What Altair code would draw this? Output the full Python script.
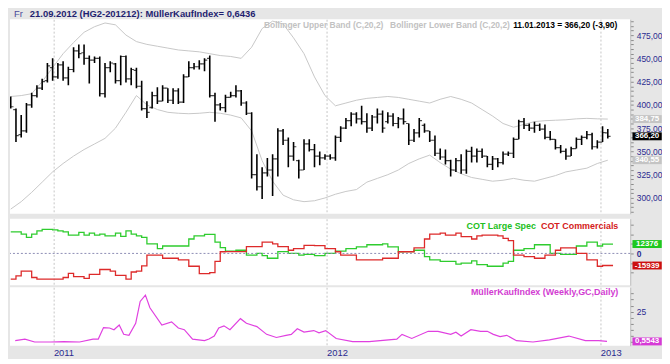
import altair as alt
import pandas as pd

W = 625
H_PRICE, H_COT, H_MKI = 196, 67, 59
FONT = "Liberation Sans"
NAVY = "#2b2b90"

# ---------------- weekly OHLC (HG2) ----------------
opens = [405, 395, 368, 372, 400, 410, 418, 426, 440, 430,
         443, 429, 438, 458, 456, 450, 448, 450, 412, 440,
         444, 426, 452, 428, 437, 420, 396, 397, 410, 404,
         418, 405, 415, 403, 430, 440, 441, 444, 450, 410,
         400, 397, 408, 410, 415, 402, 391, 325, 312, 327,
         330, 342, 372, 362, 345, 340, 330, 358, 352, 345,
         343, 345, 343, 365, 375, 383, 390, 385, 382, 375,
         387, 390, 382, 388, 380, 385, 380, 362, 370, 378,
         372, 362, 348, 344, 340, 330, 340, 330, 350, 345,
         350, 345, 336, 342, 338, 347, 348, 363, 382, 378,
         375, 378, 374, 365, 363, 354, 350, 345, 353, 363,
         365, 368, 355, 360, 370]
highs = [409, 396, 389, 402, 413, 421, 428, 445, 450, 445,
         447, 441, 462, 465, 465, 453, 452, 452, 445, 447,
         445, 453, 453, 440, 440, 426, 404, 414, 419, 421,
         418, 418, 418, 433, 447, 445, 448, 450, 453, 413,
         402, 411, 414, 421, 416, 404, 392, 347, 333, 343,
         347, 375, 374, 365, 360, 341, 363, 363, 358, 350,
         347, 347, 367, 377, 386, 392, 392, 399, 391, 389,
         396, 394, 392, 391, 387, 396, 380, 374, 386, 380,
         372, 367, 353, 352, 341, 343, 347, 352, 355, 353,
         353, 345, 345, 343, 350, 350, 365, 384, 386, 380,
         382, 380, 379, 372, 363, 357, 353, 355, 365, 367,
         372, 370, 362, 377, 374]
lows = [396, 360, 365, 370, 397, 408, 416, 424, 426, 428,
        426, 421, 435, 450, 443, 423, 445, 409, 408, 435,
        423, 421, 424, 421, 418, 394, 386, 396, 401, 404,
        402, 401, 401, 402, 430, 438, 438, 436, 408, 382,
        394, 392, 408, 408, 399, 389, 321, 308, 299, 323,
        302, 323, 357, 333, 340, 321, 330, 350, 333, 335,
        341, 341, 340, 360, 374, 377, 380, 379, 370, 372,
        380, 370, 380, 377, 375, 379, 357, 360, 365, 370,
        360, 345, 341, 336, 323, 328, 326, 326, 338, 338,
        343, 333, 330, 333, 336, 345, 343, 363, 374, 372,
        370, 372, 363, 362, 352, 348, 341, 345, 353, 357,
        363, 352, 353, 360, 364]
closes = [398, 367, 372, 400, 410, 418, 425, 442, 430, 443,
          429, 438, 458, 455, 450, 448, 450, 412, 440, 445,
          426, 452, 428, 438, 420, 396, 392, 410, 404, 418,
          405, 415, 403, 430, 440, 441, 444, 448, 410, 400,
          397, 408, 410, 415, 402, 391, 325, 312, 327, 330,
          342, 372, 362, 345, 355, 330, 358, 352, 345, 343,
          345, 343, 365, 375, 383, 390, 385, 382, 375, 387,
          390, 375, 388, 380, 385, 382, 362, 370, 383, 372,
          362, 348, 344, 340, 330, 340, 330, 350, 345, 350,
          345, 336, 342, 338, 347, 348, 363, 382, 378, 375,
          378, 374, 365, 363, 354, 350, 345, 353, 363, 365,
          368, 355, 360, 370.1, 366.2]

# ---------------- Bollinger bands (every second week) ----------------
band_upper = [409, 410, 412, 425, 440, 455, 467, 478, 484, 488,
              486, 475, 468, 465, 463, 461, 459, 458, 457, 455,
              453, 452, 450, 462, 482, 490, 487, 472, 455, 430,
              410, 399, 402, 405, 407, 408, 409, 408, 406, 404,
              402, 406, 409, 406, 402, 395, 388, 380, 376, 379,
              382, 383, 383.5, 384, 385, 385.5, 385, 384.75]
band_lower = [288, 296, 306, 317, 328, 337, 345, 352, 358, 364,
              375, 392, 410, 400, 395, 392, 391, 390.5, 391, 392,
              391, 389, 386, 372, 340, 318, 303, 298, 296, 297,
              300, 304, 307, 309, 317, 321, 325, 330, 337, 342,
              346, 338, 331, 326, 322, 320, 318, 319, 321, 319,
              318, 321, 324, 328, 330, 332, 337, 340.55]

# ---------------- COT (weekly) ----------------
cot_large = [28300, 28300, 25400, 21200, 25400, 29600, 31750, 31750, 30900, 29600,
             28300, 24100, 24100, 27600, 24100, 26700, 24100, 25400, 23200, 23200,
             26700, 22500, 29600, 25400, 23200, 21200, 12700, 12700, 6350, 9800,
             9800, 9800, 9800, 9800, 19000, 23200, 23200, 25000, 25000, 14900,
             7600, 2900, 2900, 4200, 4200, -2200, -2200, 0, -2900, -6350,
             -6350, 2500, 2500, 0, 0, -2200, -1300, -1300, -2900, -2900,
             0, 0, 2900, 2900, 6350, 6350, 8500, 8500, 11400, 11400,
             11400, 12700, 8500, 8500, 2200, 2500, 2500, 4200, 4200, -4200,
             -8500, -8500, -10500, -10500, -10500, -14000, -12700, -12700, -9800, -14800,
             -14800, -16900, -16900, -16900, -12700, -10500, 4200, 4200, 6350, 6350,
             11400, 11400, 11400, 0, 0, -1300, -1300, -1300, 9800, 9800,
             14900, 14900, 9800, 12376, 12376, 12376]
cot_comm = [-33900, -29600, -23200, -23200, -31750, -33900, -33900, -33900, -33900, -33900,
            -31750, -26300, -30500, -30500, -33000, -27600, -27600, -21200, -21200, -23200,
            -28800, -28800, -33900, -24500, -23200, -16500, -2200, -2200, -2200, -6350,
            -6350, -6350, -8500, -8500, -16900, -16900, -26700, -26700, -25400, -10500,
            2200, 2500, 2500, 2500, 2500, 8900, 8900, 8900, 14900, 14900,
            12700, 8900, 8900, 4200, 6350, 6350, 10500, 10500, 10200, 10200,
            6350, 6350, 2200, -2200, -2200, -2200, -8500, -8500, -8500, -8500,
            -8500, -6350, -6350, -6350, 2200, 2200, 2200, 7200, 7200, 19000,
            25400, 25400, 26700, 24100, 24100, 26700, 22000, 22000, 19000, 23200,
            24100, 24100, 24100, 23200, 19900, 16900, -2200, -2200, -4200, -4200,
            -6350, -6350, -2200, -2200, 4200, 7200, 7200, 7200, 0, 0,
            -8500, -8500, -16900, -15939, -15939, -15939]

# ---------------- MüllerKaufIndex ----------------
mki_dates = ["2010-11-11", "2010-11-24", "2010-12-07", "2010-12-28", "2011-01-15",
             "2011-02-05", "2011-02-23", "2011-03-02", "2011-03-09", "2011-03-17",
             "2011-03-23", "2011-03-30", "2011-04-05", "2011-04-12", "2011-04-21",
             "2011-04-27", "2011-05-04", "2011-05-10", "2011-05-26", "2011-06-08",
             "2011-06-17", "2011-06-25", "2011-07-06", "2011-07-22", "2011-07-28",
             "2011-08-04", "2011-08-10", "2011-08-17", "2011-08-25", "2011-09-08",
             "2011-09-16", "2011-09-30", "2011-10-13", "2011-10-26", "2011-11-08",
             "2011-11-15", "2011-11-23", "2011-12-02", "2011-12-15", "2011-12-22",
             "2011-12-31", "2012-01-14", "2012-02-05", "2012-02-27", "2012-04-04",
             "2012-04-11", "2012-04-24", "2012-05-16", "2012-05-29", "2012-06-15",
             "2012-06-22", "2012-06-29", "2012-07-12", "2012-07-25", "2012-08-03",
             "2012-08-11", "2012-08-20", "2012-08-29", "2012-09-11", "2012-10-03",
             "2012-10-25", "2012-11-20", "2012-12-12", "2012-12-30", "2013-01-10"]
mki_values = [1.2, 2.5, 0.1, 0.1, 0.4, 0.1, 2.5, 2.5, 12.0, 11.6,
              10.2, 14.1, 6.4, 5.6, 15.5, 33.5, 38.7, 28.3, 14.1, 16.7,
              11.6, 10.2, 2.5, 1.2, 2.5, 5.0, 11.6, 13.4, 10.2, 19.3,
              15.5, 12.8, 6.4, 3.8, 5.6, 6.4, 11.0, 8.2, 9.5, 7.7,
              9.5, 3.0, 0.4, 0.4, 2.5, 6.4, 3.0, 8.9, 8.9, 6.4,
              8.2, 5.0, 10.2, 8.9, 8.9, 6.4, 4.6, 5.6, 1.2, 0.1,
              1.9, 5.0, 1.2, 1.2, 0.5543]

# right-axis value boxes
price_marks = [384.75, 366.20, 340.55]
price_mark_text = ["384,75", "366,20", "340,55"]
price_mark_color = ["#c4c4c4", "#000000", "#c4c4c4"]
cot_marks = [12376, -15939]
cot_mark_text = ["12376", "-15939"]
cot_mark_color = ["#1ec81e", "#cc1010"]
mki_marks = [0.5543]
mki_mark_text = ["0,5543"]
mki_mark_color = ["#d63ad6"]

year_labels = [2011, 2012, 2013]
price_ticks = list(range(285, 491, 5))
cot_ticks = [-25400, -12700, 0, 12700, 25400, 38100]
mki_ticks = [0, 5, 10, 15, 20, 25, 30, 35, 40]

# ---------------- frames ----------------
bar_dates = pd.date_range("2010-11-05", periods=len(closes), freq="7D")
band_dates = list(bar_dates[::2])
cot_dates = list(pd.date_range("2010-11-05", periods=len(cot_large), freq="7D"))

bars = pd.DataFrame({"date": bar_dates, "open": opens, "high": highs,
                     "low": lows, "close": closes})
bands = pd.DataFrame({"date": band_dates * 2, "value": band_upper + band_lower,
                      "band": ["upper"] * len(band_upper) + ["lower"] * len(band_lower)})
cot_l = pd.DataFrame({"date": cot_dates, "value": cot_large})
cot_c = pd.DataFrame({"date": cot_dates, "value": cot_comm})
mki = pd.DataFrame({"date": pd.to_datetime(mki_dates), "value": mki_values})

x_scale = alt.Scale(domain=[alt.DateTime(year=2010, month=11, date=4),
                            alt.DateTime(year=2013, month=2, date=10)], nice=False)
year_ticks = [alt.DateTime(year=y, month=1, date=1) for y in year_labels]


def x_enc(show=False):
    if show:
        ax = alt.Axis(values=year_ticks, format="%Y", grid=True, gridDash=[2, 2],
                      gridColor="#c6c6c6", domain=False, ticks=False, labelAlign="left",
                      labelColor=NAVY, labelFont=FONT, labelFontSize=9.5, labelPadding=2,
                      labelFlush=False, labelOverlap=False, title=None)
    else:
        ax = alt.Axis(values=year_ticks, grid=True, gridDash=[2, 2], gridColor="#c6c6c6",
                      domain=False, ticks=False, labels=False, title=None)
    return alt.X("date:T", scale=x_scale, axis=ax)


def y_axis(values, expr, bold=False):
    return alt.Axis(orient="right", values=values, labelExpr=expr, grid=False,
                    domainColor="#bcbcbc", tickColor="#8a8a8a", tickSize=3,
                    labelColor=NAVY, labelFont=FONT, labelFontSize=8.5,
                    labelFontWeight="bold" if bold else "normal",
                    labelPadding=3, labelOverlap=False, labelFlush=False, title=None)


def label(text, x, y, color, size=9, weight="bold", align="left"):
    return alt.Chart(pd.DataFrame({"t": [text]})).mark_text(
        align=align, baseline="middle", color=color, font=FONT,
        fontSize=size, fontWeight=weight).encode(text="t:N", x=alt.value(x), y=alt.value(y))


BOX = "M-1,-0.27L1,-0.27L1,0.27L-1,0.27Z"


def value_boxes(vals, texts, colors, yscale, yax):
    df = pd.DataFrame({"v": vals, "t": texts, "c": colors})
    box = alt.Chart(df).mark_point(shape=BOX, filled=True, opacity=1, size=870,
                                   strokeWidth=0).encode(
        x=alt.value(W + 17), y=alt.Y("v:Q", scale=yscale, axis=yax),
        fill=alt.Color("c:N", scale=None))
    txt = alt.Chart(df).mark_text(color="white", font=FONT, fontSize=8,
                                  fontWeight="bold", align="center", baseline="middle").encode(
        x=alt.value(W + 17), y=alt.Y("v:Q", scale=yscale, axis=yax), text="t:N")
    return [box, txt]


# ---------------- price panel ----------------
ys_p = alt.Scale(domain=[283, 492], nice=False, zero=False)
ya_p = y_axis(price_ticks,
              "datum.value % 25 == 0 ? replace(format(datum.value, '.2f'), '.', ',') : ''")

band_layer = alt.Chart(bands).mark_line(color="#c8c8c8", strokeWidth=1, clip=True).encode(
    x=x_enc(), y=alt.Y("value:Q", scale=ys_p, axis=ya_p), detail="band:N")
hl_layer = alt.Chart(bars).mark_rule(color="black", strokeWidth=1.6, clip=True).encode(
    x=x_enc(), y=alt.Y("low:Q", scale=ys_p, axis=ya_p), y2="high:Q")
open_layer = alt.Chart(bars).mark_tick(orient="horizontal", color="black", size=2.6,
                                       thickness=1.2, xOffset=-1.5, clip=True).encode(
    x=x_enc(), y=alt.Y("open:Q", scale=ys_p, axis=ya_p))
close_layer = alt.Chart(bars).mark_tick(orient="horizontal", color="black", size=2.6,
                                        thickness=1.2, xOffset=1.5, clip=True).encode(
    x=x_enc(), y=alt.Y("close:Q", scale=ys_p, axis=ya_p))

price = alt.layer(
    band_layer, hl_layer, open_layer, close_layer,
    *value_boxes(price_marks, price_mark_text, price_mark_color, ys_p, ya_p),
    label("Fr", 4, -5, "#4a4a9a", size=9.5, weight="normal"),
    label("21.09.2012 (HG2-201212):  MüllerKaufIndex= 0,6436", 20, -5, "#1f1f70", size=9.5),
    label("Bollinger Upper Band (C,20,2)", 256, 6, "#c2c2c2", size=8.5),
    label("Bollinger Lower Band (C,20,2)", 383, 6, "#c2c2c2", size=8.5),
    label("11.01.2013 = 366,20 (-3,90)", 612, 6, "#000000", size=8.5, align="right"),
).properties(width=W, height=H_PRICE)

# ---------------- COT panel ----------------
ys_c = alt.Scale(domain=[-41900, 45700], nice=False, zero=False)
ya_c = y_axis(cot_ticks, "datum.value == 0 ? '0' : ''", bold=True)

zero_line = alt.Chart(pd.DataFrame({"z": [0]})).mark_rule(
    color="#8c8cb4", strokeDash=[2, 2], strokeWidth=1).encode(
    y=alt.Y("z:Q", scale=ys_c, axis=ya_c))
green_line = alt.Chart(cot_l).mark_line(color="#2ecc2e", strokeWidth=1.3,
                                        interpolate="step-after").encode(
    x=x_enc(), y=alt.Y("value:Q", scale=ys_c, axis=ya_c))
red_line = alt.Chart(cot_c).mark_line(color="#dd2a2a", strokeWidth=1.3,
                                      interpolate="step-after").encode(
    x=x_enc(), y=alt.Y("value:Q", scale=ys_c, axis=ya_c))

cot = alt.layer(
    green_line, zero_line, red_line,
    *value_boxes(cot_marks, cot_mark_text, cot_mark_color, ys_c, ya_c),
    label("COT Large Spec", 530, 7, "#22c022", size=9, align="right"),
    label("COT Commercials", 613, 7, "#d42020", size=9, align="right"),
).properties(width=W, height=H_COT)

# ---------------- MKI panel ----------------
ys_m = alt.Scale(domain=[-3, 45.2], nice=False, zero=False)
ya_m = y_axis(mki_ticks, "datum.value == 25 ? '25' : ''")

mki_line = alt.Chart(mki).mark_line(color="#e040e0", strokeWidth=1.2).encode(
    x=x_enc(True), y=alt.Y("value:Q", scale=ys_m, axis=ya_m))

mki_panel = alt.layer(
    mki_line,
    *value_boxes(mki_marks, mki_mark_text, mki_mark_color, ys_m, ya_m),
    label("MüllerKaufIndex (Weekly,GC,Daily)", 613, 5, "#d23cd2", size=9, align="right"),
).properties(width=W, height=H_MKI)

chart = alt.vconcat(price, cot, mki_panel, spacing=2).properties(
    padding={"left": 0, "top": 0, "right": 0, "bottom": 0}
).configure(background="#e6e6e6").configure_view(fill="white", stroke=None)

chart.save("out.html", embed_options={"renderer": "svg", "actions": False})
